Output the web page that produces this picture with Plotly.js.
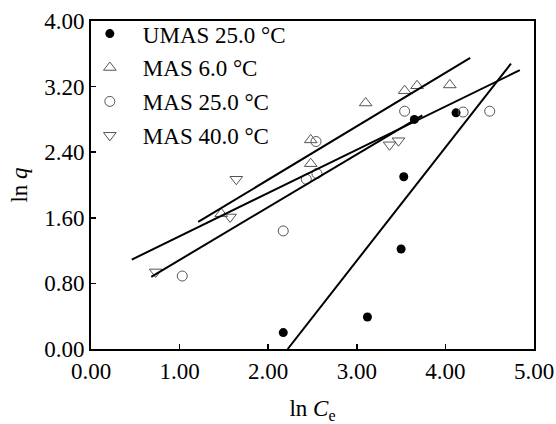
<!DOCTYPE html>
<html>
<head>
<meta charset="utf-8">
<script src="https://cdn.plot.ly/plotly-3.0.1.min.js"></script>
<style>html,body{margin:0;padding:0;background:#fff;}#chart{width:556px;height:424px;}</style>
</head>
<body>
<div id="chart"></div>
<script>
// Series names
const seriesNames = ["UMAS 25.0 °C", "MAS 6.0 °C", "MAS 25.0 °C", "MAS 40.0 °C"];

// Data points (ln Ce, ln q)
const umas25X = [2.17, 3.12, 3.50, 3.53, 3.65, 4.12];
const umas25Y = [0.20, 0.39, 1.22, 2.10, 2.80, 2.88];

const mas6X = [1.47, 2.48, 2.48, 3.10, 3.54, 3.68, 4.05];
const mas6Y = [1.65, 2.26, 2.55, 3.00, 3.15, 3.21, 3.22];

const mas25X = [1.03, 2.17, 2.43, 2.55, 2.54, 3.54, 4.20, 4.50];
const mas25Y = [0.89, 1.44, 2.07, 2.14, 2.53, 2.90, 2.89, 2.90];

const mas40X = [0.73, 1.57, 1.64, 3.37, 3.47];
const mas40Y = [0.94, 1.61, 2.07, 2.49, 2.54];

// Fitted lines (endpoints)
const fitUmas25X = [2.22, 4.74], fitUmas25Y = [0.00, 3.48];
const fitMas6X = [1.21, 4.28],  fitMas6Y = [1.55, 3.55];
const fitMas25X = [0.46, 4.84], fitMas25Y = [1.09, 3.40];
const fitMas40X = [0.68, 3.74], fitMas40Y = [0.88, 2.85];

const FONT = "'Liberation Serif', 'Times New Roman', serif";
const gray = "#555";

const traces = [
  {x: umas25X, y: umas25Y, name: seriesNames[0], mode: "markers", legendgroup: "a",
   marker: {symbol: "circle", size: 9, color: "#000"}},
  {x: mas6X, y: mas6Y, name: seriesNames[1], mode: "markers", legendgroup: "b",
   marker: {symbol: "triangle-up-open", size: 11, color: gray, line: {width: 1, color: gray}}},
  {x: mas25X, y: mas25Y, name: seriesNames[2], mode: "markers", legendgroup: "c",
   marker: {symbol: "circle-open", size: 10, color: gray, line: {width: 1, color: gray}}},
  {x: mas40X, y: mas40Y, name: seriesNames[3], mode: "markers", legendgroup: "d",
   marker: {symbol: "triangle-down-open", size: 11, color: gray, line: {width: 1, color: gray}}},
  {x: fitUmas25X, y: fitUmas25Y, mode: "lines", showlegend: false, line: {color: "#000", width: 2}},
  {x: fitMas6X, y: fitMas6Y, mode: "lines", showlegend: false, line: {color: "#000", width: 2}},
  {x: fitMas25X, y: fitMas25Y, mode: "lines", showlegend: false, line: {color: "#000", width: 2}},
  {x: fitMas40X, y: fitMas40Y, mode: "lines", showlegend: false, line: {color: "#000", width: 2}}
];

const layout = {
  width: 556, height: 424,
  margin: {l: 91, r: 22, t: 21, b: 75, pad: 0},
  paper_bgcolor: "#fff", plot_bgcolor: "#fff",
  font: {family: FONT, size: 22, color: "#000"},
  showlegend: true,
  legend: {x: -0.032, y: 1.027, xanchor: "left", yanchor: "top", bgcolor: "rgba(0,0,0,0)",
           itemwidth: 56, tracegroupgap: 1, font: {family: FONT, size: 23, color: "#000"}},
  xaxis: {
    range: [0, 5], dtick: 1, tick0: 0, tickformat: ".2f",
    ticks: "inside", ticklen: 5, tickwidth: 1.5, tickcolor: "#000",
    showline: true, linecolor: "#000", linewidth: 2, mirror: true,
    showgrid: false, zeroline: false,
    tickfont: {family: FONT, size: 23},
    title: {text: "ln <i>C</i><sub>e</sub>", font: {family: FONT, size: 23}, standoff: 20}
  },
  yaxis: {
    range: [0, 4], dtick: 0.8, tick0: 0, tickformat: ".2f",
    ticks: "inside", ticklen: 5, tickwidth: 1.5, tickcolor: "#000",
    showline: true, linecolor: "#000", linewidth: 2, mirror: true,
    showgrid: false, zeroline: false,
    tickfont: {family: FONT, size: 23},
    title: {text: "ln <i>q</i>", font: {family: FONT, size: 23}, standoff: 10}
  }
};

Plotly.newPlot("chart", traces, layout, {displayModeBar: false, staticPlot: true});
</script>
</body>
</html>
